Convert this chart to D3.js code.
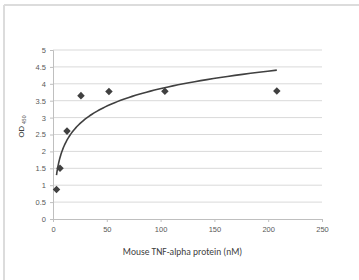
<!DOCTYPE html>
<html>
<head>
<meta charset="utf-8">
<script src="https://cdn.jsdelivr.net/npm/d3@7"></script>
<style>
  body { margin: 0; background: #fff; }
  svg { display: block; font-family: Calibri, Carlito, "Liberation Sans", sans-serif; }
</style>
</head>
<body>
<div id="chart"></div>
<script>
const concentrations = [3.25, 6.5, 13, 26, 52, 104, 208];
const odValues = [0.87, 1.5, 2.6, 3.65, 3.77, 3.78, 3.79];
const xTicks = [0, 50, 100, 150, 200, 250];
const yTicks = [0, 0.5, 1, 1.5, 2, 2.5, 3, 3.5, 4, 4.5, 5];

const W = 359, H = 280;
const margin = { top: 50, right: 37, bottom: 61, left: 53 };
const innerW = W - margin.left - margin.right;
const innerH = H - margin.top - margin.bottom;

const svg = d3.select("#chart").append("svg")
  .attr("width", W).attr("height", H);

// outer frame (top + left edges visible)
svg.append("line").attr("x1", 4).attr("x2", W).attr("y1", 5).attr("y2", 5)
  .attr("stroke", "#dcdcdc").attr("stroke-width", 2);
svg.append("line").attr("x1", 4).attr("x2", 4).attr("y1", 5).attr("y2", H)
  .attr("stroke", "#dcdcdc").attr("stroke-width", 2);

const g = svg.append("g").attr("transform", `translate(${margin.left},${margin.top})`);

const x = d3.scaleLinear().domain([0, 250]).range([0, innerW]);
const y = d3.scaleLinear().domain([0, 5]).range([innerH, 0]);

// gridlines
g.append("g").selectAll("line").data(yTicks.filter(d => d > 0)).join("line")
  .attr("x1", 0).attr("x2", innerW)
  .attr("y1", d => y(d)).attr("y2", d => y(d))
  .attr("stroke", "#d9d9d9").attr("stroke-width", 1);

// y axis
const yAxis = g.append("g")
  .call(d3.axisLeft(y).tickValues(yTicks).tickSize(3).tickPadding(4).tickFormat(d3.format("")));
yAxis.select(".domain").attr("stroke", "#bfbfbf");
yAxis.selectAll(".tick line").attr("stroke", "#bfbfbf");
yAxis.selectAll("text").attr("fill", "#595959").style("font-size", "7.5px");

// x axis
const xAxis = g.append("g").attr("transform", `translate(0,${innerH})`)
  .call(d3.axisBottom(x).tickValues(xTicks).tickSize(3).tickPadding(5));
xAxis.select(".domain").attr("stroke", "#bfbfbf");
xAxis.selectAll(".tick line").attr("stroke", "#bfbfbf");
xAxis.selectAll("text").attr("fill", "#595959").style("font-size", "7.5px");

// logarithmic trendline (least squares on ln x)
const lx = concentrations.map(Math.log);
const mx = d3.mean(lx), my = d3.mean(odValues);
const slope = d3.sum(lx, (v, i) => (v - mx) * (odValues[i] - my)) / d3.sum(lx, v => (v - mx) ** 2);
const intercept = my - slope * mx;
const xMin = d3.min(concentrations), xMax = d3.max(concentrations);
const trend = d3.range(0, 101).map(i => {
  const c = xMin * Math.pow(xMax / xMin, i / 100);
  return [c, slope * Math.log(c) + intercept];
});
g.append("path").datum(trend)
  .attr("d", d3.line().x(d => x(d[0])).y(d => y(d[1])))
  .attr("fill", "none").attr("stroke", "#404040").attr("stroke-width", 1.6);

// diamond markers
const diamond = d3.symbol().type(d3.symbolDiamond2).size(36);
g.selectAll(".pt").data(concentrations).join("path")
  .attr("class", "pt")
  .attr("transform", (d, i) => `translate(${x(d)},${y(odValues[i])})`)
  .attr("d", diamond)
  .attr("fill", "#404040");

// axis titles
svg.append("text")
  .attr("x", margin.left + innerW / 2 - 5).attr("y", 255)
  .attr("text-anchor", "middle").attr("fill", "#404040").style("font-size", "9.5px")
  .text("Mouse TNF-alpha protein (nM)");

const yt = svg.append("text")
  .attr("transform", `translate(24,${margin.top + innerH / 2 - 8}) rotate(-90)`)
  .attr("text-anchor", "middle").attr("fill", "#404040").style("font-size", "9px");
yt.append("tspan").text("OD ");
yt.append("tspan").attr("dy", 2).style("font-size", "5.5px").text("450");
</script>
</body>
</html>
